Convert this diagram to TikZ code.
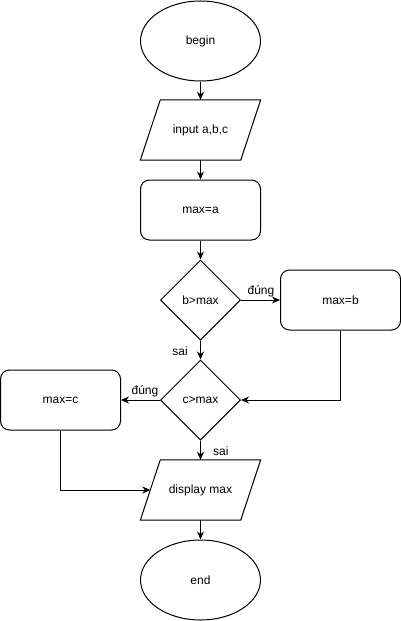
\documentclass[tikz,border=0pt]{standalone}
\usepackage{fontspec}
\setmainfont{Liberation Sans}
\usetikzlibrary{shapes.geometric,arrows.meta,calc}
\begin{document}
\begin{tikzpicture}[x=1pt,y=-1pt,
  every node/.style={font=\fontsize{12}{14}\selectfont},
  flow/.style={line width=1pt,-{Stealth[length=8pt,width=7pt,inset=2.5pt]}},
  terminal/.style={draw,line width=1pt,ellipse,minimum width=120pt,minimum height=80pt,inner sep=0pt},
  process/.style={draw,line width=1pt,rectangle,rounded corners=9pt,minimum width=120pt,minimum height=60pt,inner sep=0pt},
  decision/.style={draw,line width=1pt,diamond,minimum width=80pt,minimum height=80pt,inner sep=0pt},
  iobox/.style={rectangle,minimum width=100pt,minimum height=60pt,inner sep=0pt},
  lbl/.style={inner sep=0pt}]
\useasboundingbox (0,0) rectangle (401,621);

% nodes
\node[terminal] (begin) at (200.5,41) {begin};
\node[iobox] (input) at (200.5,130) {input a,b,c};
\node[process] (maxa) at (200.5,210) {max=a};
\node[decision] (d1) at (200.5,300) {b>max};
\node[process] (maxb) at (340.5,300) {max=b};
\node[decision] (d2) at (200.5,400) {c>max};
\node[process] (maxc) at (60.5,400) {max=c};
\node[iobox] (disp) at (200.5,490) {display max};
\node[terminal] (end) at (200.5,580) {end};

% parallelogram outlines of the input/output boxes
\foreach \n in {input,disp}{
  \draw[line width=1pt,line join=miter]
    ([xshift=10pt]\n.north west) -- ([xshift=10pt]\n.north east)
    -- ([xshift=-10pt]\n.south east) -- ([xshift=-10pt]\n.south west) -- cycle;
}

% connectors
\draw[flow] (begin) -- (input);
\draw[flow] (input) -- (maxa);
\draw[flow] (maxa) -- (d1);
\draw[flow] (d1) -- (maxb);
\draw[flow] (d1) -- (d2);
\draw[flow] (maxb.south) |- (d2.east);
\draw[flow] (d2) -- (maxc);
\draw[flow] (d2) -- (disp);
\draw[flow] (maxc.south) |- (disp.west);
\draw[flow] (disp) -- (end);

% branch labels
\node[lbl] (y1) at (261,291) {đúng};
\node[lbl,anchor=east] (n1) at (188,351) {sai};
\node[lbl] (y2) at (145,391) {đúng};
\node[lbl,anchor=west] (n2) at (213,451) {sai};
\end{tikzpicture}
\end{document}
